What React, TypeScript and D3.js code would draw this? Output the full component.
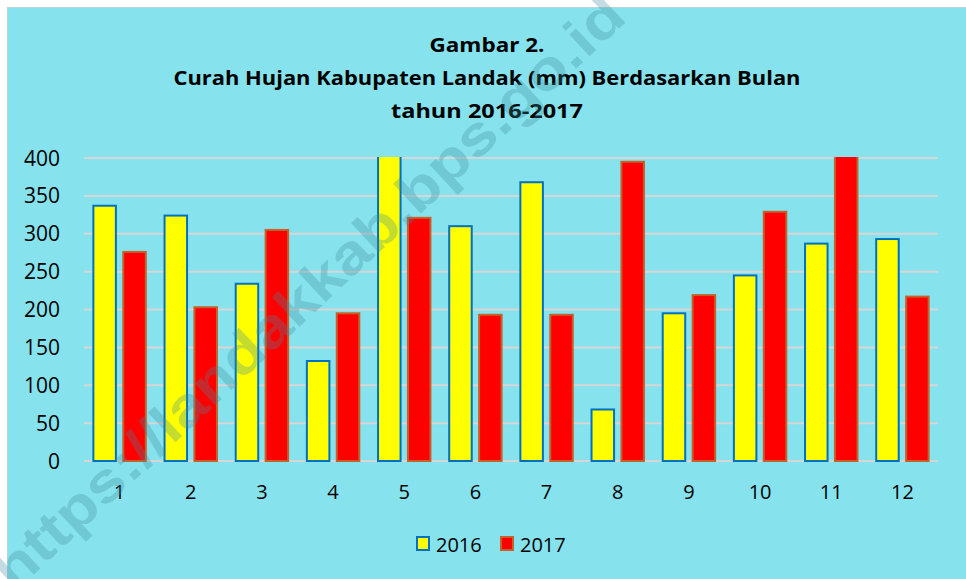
import React from "react";
import * as d3 from "d3";

const months = ["1", "2", "3", "4", "5", "6", "7", "8", "9", "10", "11", "12"];
const seriesNames = ["2016", "2017"];
const values2016 = [337, 324, 234, 132, 430, 310, 368, 68, 195, 245, 287, 293];
const values2017 = [276, 203, 305, 195, 321, 193, 193, 395, 219, 329, 410, 217];
const yTicks = [0, 50, 100, 150, 200, 250, 300, 350, 400];
const titleLines = [
  "Gambar 2.",
  "Curah Hujan Kabupaten Landak (mm) Berdasarkan Bulan",
  "tahun 2016-2017",
];
const watermark = "https://landakkab.bps.go.id";

const W = 966;
const H = 579;
const BG = "#86E2EC";
const fills = ["#FFFF00", "#FF0000"];
const strokes = ["#0070C0", "#C5612A"];
const FONT = "'Open Sans', 'Noto Sans', sans-serif";

export default function App() {
  const x = d3.scaleBand<string>().domain(months).range([84, 938]).paddingInner(0).paddingOuter(0);
  const xs = d3
    .scaleBand<string>()
    .domain(seriesNames)
    .range([0, x.bandwidth()])
    .paddingInner(0.18)
    .paddingOuter(0.28);
  const y = d3.scaleLinear().domain([0, 400]).range([461, 158]);
  const data = [values2016, values2017];
  const titleW = [115, 627, 192];

  return (
    <svg
      width={W}
      height={H}
      style={{ position: "absolute", left: 0, top: 0, display: "block" }}
      xmlns="http://www.w3.org/2000/svg"
    >
      <defs>
        <clipPath id="plotclip">
          <rect x={0} y={y(400) - 1} width={W} height={H} />
        </clipPath>
      </defs>
      <rect x={0} y={0} width={W} height={H} fill="#ffffff" />
      <rect x={7.5} y={7.5} width={W} height={H} fill={BG} stroke="#b9d3da" strokeWidth={1} />

      {/* title */}
      {titleLines.map((t, i) => (
        <text
          key={i}
          x={487}
          y={52 + i * 33}
          textAnchor="middle"
          fontFamily={FONT}
          fontWeight="bold"
          fontSize={20}
          fill="#000"
          textLength={titleW[i]}
          lengthAdjust="spacingAndGlyphs"
        >
          {t}
        </text>
      ))}

      {/* gridlines */}
      {yTicks.map((t) => (
        <line key={t} x1={84} x2={938} y1={y(t)} y2={y(t)} stroke="#D6D6D6" strokeWidth={2} />
      ))}

      {/* y labels */}
      {yTicks.map((t) => (
        <text
          key={"yl" + t}
          x={60}
          y={y(t)}
          dy="0.36em"
          textAnchor="end"
          fontFamily={FONT}
          fontSize={21}
          fill="#000"
        >
          {t}
        </text>
      ))}

      {/* bars */}
      <g clipPath="url(#plotclip)">
        {months.map((m, i) =>
          seriesNames.map((s, j) => {
            const v = data[j][i];
            const x0 = (x(m) as number) + (xs(s) as number);
            const bw = xs.bandwidth();
            return (
              <rect
                key={m + s}
                x={x0 + 1}
                y={y(v)}
                width={bw - 2}
                height={y(0) - y(v)}
                fill={fills[j]}
                stroke={strokes[j]}
                strokeWidth={2}
              />
            );
          })
        )}
      </g>

      {/* x labels */}
      {months.map((m) => (
        <text
          key={"xl" + m}
          x={(x(m) as number) + x.bandwidth() / 2}
          y={499}
          textAnchor="middle"
          fontFamily={FONT}
          fontSize={20}
          fill="#000"
        >
          {m}
        </text>
      ))}

      {/* legend */}
      {seriesNames.map((s, j) => {
        const lx = [417, 501][j];
        return (
          <g key={"lg" + s}>
            <rect x={lx} y={537} width={12} height={13} fill={fills[j]} stroke={strokes[j]} strokeWidth={2} />
            <text x={lx + 19} y={552} fontFamily={FONT} fontSize={20} fill="#000">
              {s}
            </text>
          </g>
        );
      })}

      {/* watermark */}
      <text
        transform="translate(308,292) rotate(-43)"
        textAnchor="middle"
        dominantBaseline="central"
        fontFamily="'Liberation Sans', Arial, sans-serif"
        fontWeight="bold"
        fontSize={56}
        fill="#3c8c9c"
        fillOpacity={0.3}
        textLength={840}
        lengthAdjust="spacingAndGlyphs"
      >
        {watermark}
      </text>
    </svg>
  );
}
